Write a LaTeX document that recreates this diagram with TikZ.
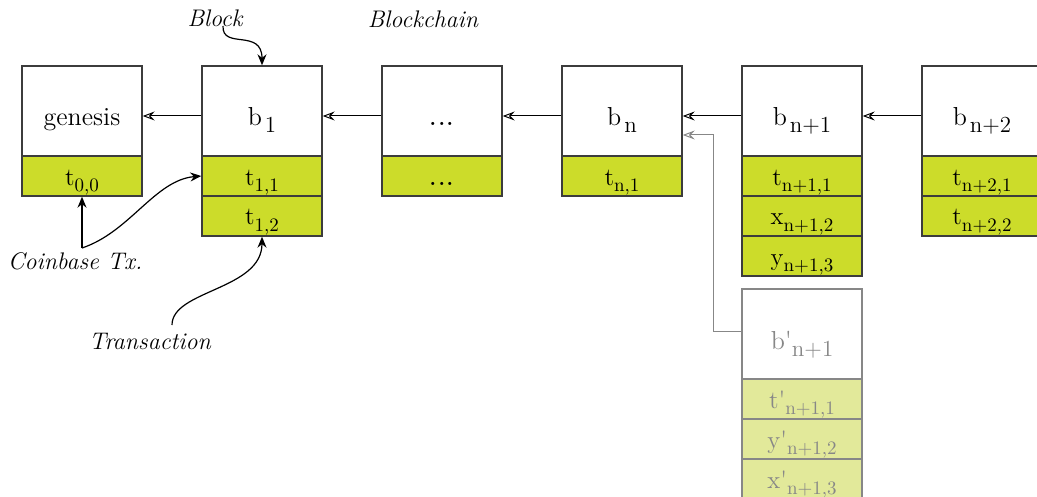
\documentclass[tikz,border=0pt]{standalone}
\usetikzlibrary{arrows.meta}
\definecolor{txfill}{RGB}{204,220,42}
\definecolor{txlight}{RGB}{226,233,154}
\definecolor{edgegray}{RGB}{60,60,60}
\definecolor{forkgray}{RGB}{135,135,135}
\newcommand{\hb}[2]{#1\kern1.5pt\raisebox{-3.5pt}{\fontsize{11.5}{12}\selectfont #2}}
\newcommand{\hbp}[2]{#1\raisebox{-3.5pt}{\fontsize{11.5}{12}\selectfont #2}}
\newcommand{\tx}[2]{#1\raisebox{-3pt}{\fontsize{9.5}{10}\selectfont #2}}
\newcommand{\bigdots}{{\fontsize{19}{20}\selectfont .\kern-0.5pt.\kern-0.5pt.}}
\begin{document}
\begin{tikzpicture}[x=0.5pt,y=-0.5pt,
  hdr/.style={draw=edgegray,line width=0.7pt,fill=white,minimum width=60pt,minimum height=45pt,inner sep=0pt,text height=15pt,text depth=0pt,font=\fontsize{13}{15}\selectfont},
  row/.style={draw=edgegray,line width=0.7pt,fill=txfill,minimum width=60pt,minimum height=20pt,inner sep=0pt,text height=9pt,text depth=0pt,font=\fontsize{12.5}{14}\selectfont},
  fhdr/.style={hdr,draw=forkgray,text=forkgray},
  frow/.style={row,fill=txlight,draw=forkgray,text=forkgray},
  chain/.style={line width=0.5pt,-{Stealth[open,length=6pt,width=4.5pt,inset=2.2pt,line width=0.5pt]}},
  forkarrow/.style={chain,draw=forkgray},
  ann/.style={line width=0.6pt,-{Stealth[length=5.5pt,width=4.5pt]}},
  lbl/.style={font=\fontsize{12}{14}\selectfont\itshape,inner sep=1pt}]
\useasboundingbox (0,0) rectangle (1037,497);
\clip (0,0) rectangle (1037,497);
% headers
\node[hdr] (gen) at (82,111) {genesis};
\node[hdr] (b1) at (262,111) {\hb{b}{1}};
\node[hdr] (dots) at (442,111) {\bigdots};
\node[hdr] (bn) at (622,111) {\hb{b}{n}};
\node[hdr] (bn1) at (802,111) {\hb{b}{n+1}};
\node[hdr] (bn2) at (982,111) {\hb{b}{n+2}};
% rows
\node[row] (t00) at (82,176) {\tx{t}{0,0}};
\node[row] (t11) at (262,176) {\tx{t}{1,1}};
\node[row] (t12) at (262,216) {\tx{t}{1,2}};
\node[row] (tdots) at (442,176) {\bigdots};
\node[row] (tn1) at (622,176) {\tx{t}{n,1}};
\node[row] (tna) at (802,176) {\tx{t}{n+1,1}};
\node[row] (xna) at (802,216) {\tx{x}{n+1,2}};
\node[row] (yna) at (802,256) {\tx{y}{n+1,3}};
\node[row] (tnb) at (982,176) {\tx{t}{n+2,1}};
\node[row] (tnc) at (982,216) {\tx{t}{n+2,2}};
% fork
\node[fhdr] (fb) at (802,334) {\hbp{b\textquotesingle}{n+1}};
\node[frow] (ft) at (802,399) {\tx{t\textquotesingle}{n+1,1}};
\node[frow] (fy) at (802,439) {\tx{y\textquotesingle}{n+1,2}};
\node[frow] (fx) at (802,479) {\tx{x\textquotesingle}{n+1,3}};
% chain arrows
\draw[chain] ([yshift=-2.5pt]b1.west) -- ([yshift=-2.5pt]gen.east);
\draw[chain] ([yshift=-2.5pt]dots.west) -- ([yshift=-2.5pt]b1.east);
\draw[chain] ([yshift=-2.5pt]bn.west) -- ([yshift=-2.5pt]dots.east);
\draw[chain] ([yshift=-2.5pt]bn1.west) -- ([yshift=-2.5pt]bn.east);
\draw[chain] ([yshift=-2.5pt]bn2.west) -- ([yshift=-2.5pt]bn1.east);
\draw[forkarrow] ([yshift=1.5pt]fb.west) -- ++(-28,0) |- ([yshift=-12pt]bn.east);
% labels
\node[lbl] (lblock) at (215,18) {Block};
\node[lbl] (lchain) at (423,19) {Blockchain};
\node[lbl] (lcoin) at (75,261) {Coinbase Tx.};
\node[lbl] (ltrans) at (150,341) {Transaction};
\coordinate (cb) at (82,248);
\draw[ann] (223,26) .. controls (222,50) and (262,28) .. (b1.north);
\draw[ann] (cb) -- (t00.south);
\draw[ann] (cb) .. controls (130,232) and (155,180) .. (t11.west);
\draw[ann] (172,325) .. controls (172,290) and (262,290) .. (t12.south);
\end{tikzpicture}
\end{document}
